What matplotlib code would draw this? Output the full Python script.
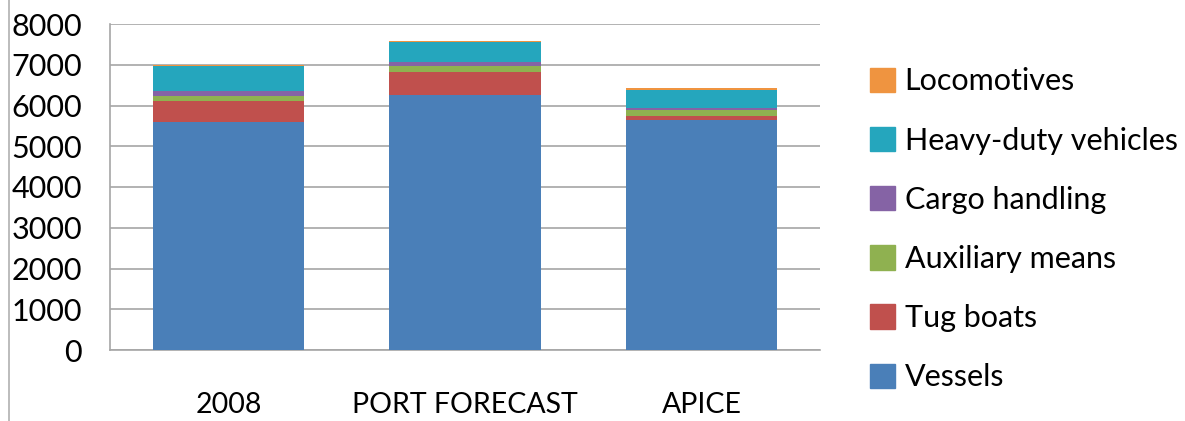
import matplotlib.pyplot as plt
import numpy as np
from matplotlib.lines import Line2D

plt.rcParams['font.family'] = ['Lato', 'DejaVu Sans']

categories = ["2008", "PORT FORECAST", "APICE"]
series_names = ["Vessels", "Tug boats", "Auxiliary means", "Cargo handling",
                "Heavy-duty vehicles", "Locomotives"]
vessels = [5590, 6250, 5640]
tug_boats = [530, 570, 100]
auxiliary_means = [120, 140, 140]
cargo_handling = [120, 110, 50]
heavy_duty = [615, 500, 450]
locomotives = [10, 15, 50]
colors = ["#4A7FB8", "#C0504D", "#8FB150", "#8563A5", "#25A6BD", "#EF9440"]

series = [vessels, tug_boats, auxiliary_means, cargo_handling, heavy_duty, locomotives]

fig = plt.figure(figsize=(11.85, 4.21), dpi=100)
ax = fig.add_axes([110 / 1185, 1 - 350 / 421, 710 / 1185, 326 / 421])

x = np.arange(len(categories))
bottom = np.zeros(len(categories))
handles = []
for name, vals, c in zip(series_names, series, colors):
    vals = np.array(vals, dtype=float)
    ax.bar(x, vals, width=0.64, bottom=bottom, color=c, edgecolor="none", zorder=3)
    bottom += vals
    handles.append(plt.Rectangle((0, 0), 1, 1, color=c))

ax.set_xlim(-0.5, 2.5)
ax.set_ylim(0, 8000)
ax.set_yticks(range(0, 8001, 1000))
ax.yaxis.grid(True, color="#A6A6A6", linewidth=1.2, zorder=0)
ax.set_xticks(x)
ax.set_xticklabels(categories)
ax.tick_params(axis="both", length=0)
ax.tick_params(axis="x", pad=30, labelsize=20.5)
ax.tick_params(axis="y", pad=20, labelsize=22)
for side in ["top", "right"]:
    ax.spines[side].set_visible(False)
for side in ["left", "bottom"]:
    ax.spines[side].set_color("#A6A6A6")
    ax.spines[side].set_linewidth(1.2)

fig.legend(handles[::-1], series_names[::-1], loc="upper left",
           bbox_to_anchor=(842 / 1185, 1 - 40 / 421), frameon=False,
           fontsize=22, handlelength=0.85, handleheight=0.85,
           labelspacing=1.02, handletextpad=0.3)

fig.add_artist(Line2D([9 / 1185, 9 / 1185], [0, 1], color="#B0B0B0", linewidth=1.2))

fig.savefig("out.png", dpi=100)
